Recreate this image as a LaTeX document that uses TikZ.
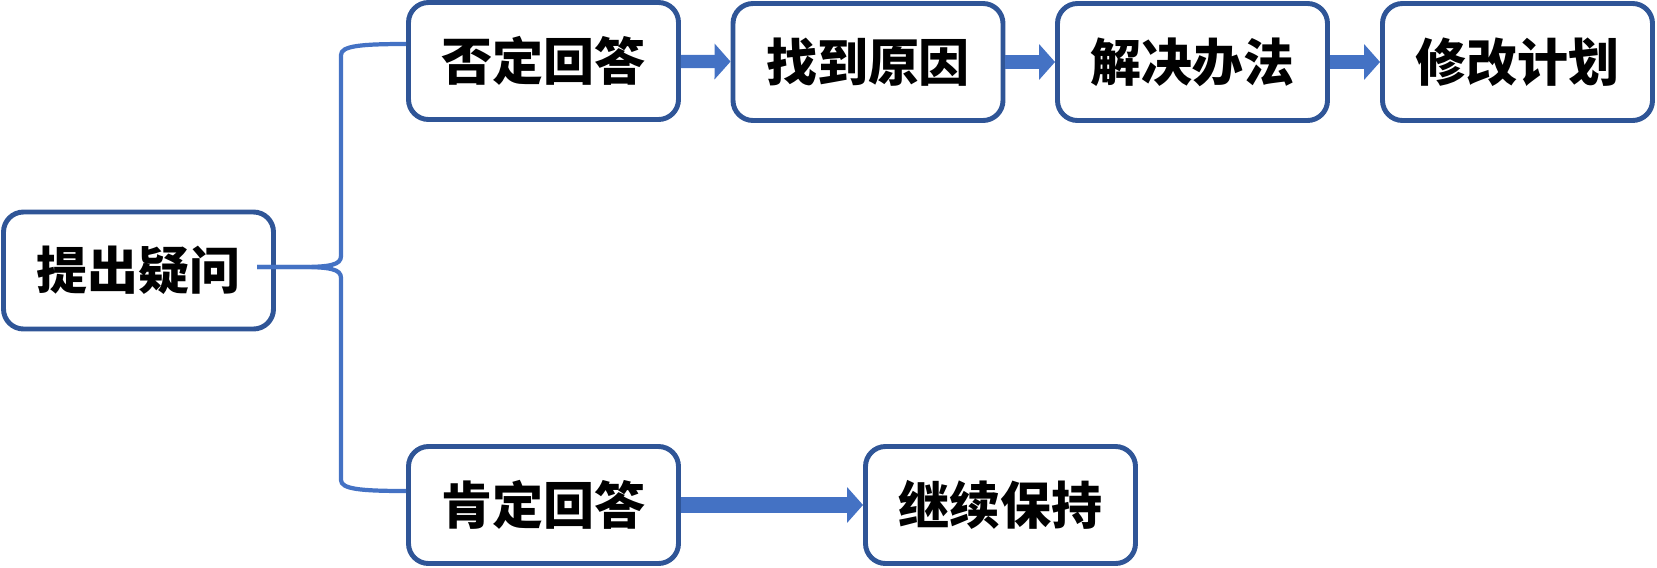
\documentclass[tikz,border=0pt]{standalone}
\usepackage{fontspec}
\setmainfont{Noto Sans CJK SC}
\usetikzlibrary{arrows.meta}
\usetikzlibrary{calc}
\definecolor{boxblue}{HTML}{2F5597}
\definecolor{lineblue}{HTML}{4472C4}

\begin{document}
\begin{tikzpicture}[box/.style={draw=boxblue, line width=2.8pt, rounded corners=0.4cm, fill=white, minimum width=5.40cm, minimum height=2.34cm, font=\bfseries\fontsize{29}{33}\selectfont},
  flow/.style={draw=lineblue, line width=7.5pt, -{Triangle[length=0.32cm, width=0.70cm]}},
  brace/.style={draw=lineblue, line width=2.4pt}]
\useasboundingbox (0,0) rectangle (33.14,-11.34);
\node[box] (q) at (2.77,-5.41) {提出疑问};
\node[box] (n1) at (10.87,-1.22) {否定回答};
\node[box] (n2) at (17.36,-1.24) {找到原因};
\node[box] (n3) at (23.85,-1.24) {解决办法};
\node[box] (n4) at (30.35,-1.24) {修改计划};
\node[box] (y1) at (10.87,-10.10) {肯定回答};
\node[box] (y2) at (20.01,-10.10) {继续保持};
\coordinate (tip) at (5.14,-5.34);
\draw[brace] (tip) -- (6.0,-5.34) .. controls (6.6,-5.34) and (6.82,-5.30) .. (6.82,-5.12)
  -- (6.82,-1.10) .. controls (6.82,-0.92) and (7.2,-0.88) .. ([yshift=0.34cm]n1.west);
\draw[brace] (tip) -- (6.0,-5.34) .. controls (6.6,-5.34) and (6.82,-5.38) .. (6.82,-5.56)
  -- (6.82,-9.60) .. controls (6.82,-9.78) and (7.2,-9.82) .. ([yshift=0.28cm]y1.west);
\draw[flow] (n1) -- (n2);
\draw[flow] (n2) -- (n3);
\draw[flow] (n3) -- (n4);
\draw[flow, line width=9pt] (y1) -- (y2);
\end{tikzpicture}
\end{document}
